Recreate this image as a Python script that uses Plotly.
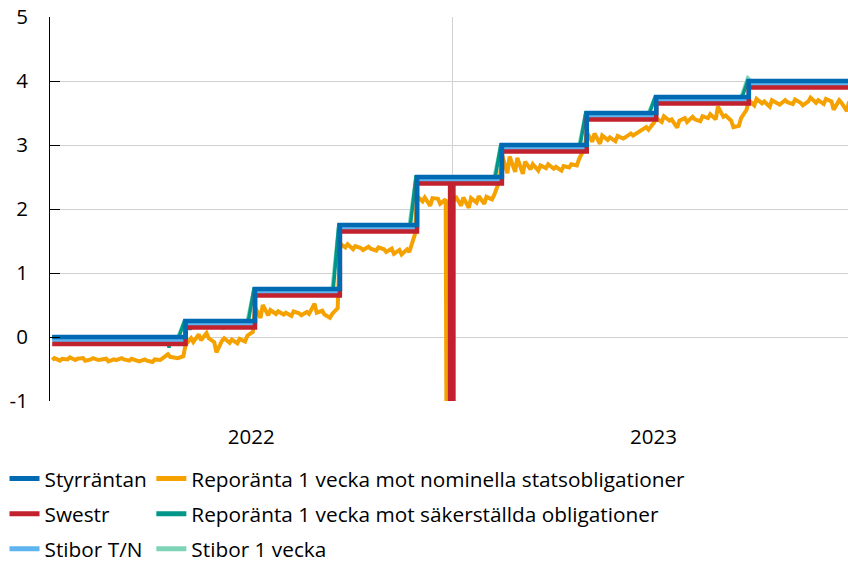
import pandas as pd
import plotly.graph_objects as go

# Styrräntan (policy rate) - change dates and levels
policy_dates = ['2022-01-03', '2022-05-04', '2022-07-06', '2022-09-21', '2022-11-30',
                '2023-02-15', '2023-05-03', '2023-07-05', '2023-09-27', '2023-12-29']
policy_rate = [0.0, 0.25, 0.75, 1.75, 2.5, 3.0, 3.5, 3.75, 4.0, 4.0]

# Swestr - level changes, incl. the year-end drop
swestr_dates = ['2022-01-03', '2022-05-04', '2022-07-06', '2022-09-21', '2022-11-30',
                '2022-12-30', '2023-01-02', '2023-02-15', '2023-05-03', '2023-07-05',
                '2023-09-27', '2023-12-29']
swestr = [-0.11, 0.15, 0.65, 1.65, 2.40, -8.0, 2.40, 2.90, 3.40, 3.65, 3.90, 3.90]

# Stibor T/N
stn_dates = policy_dates
stibor_tn = [-0.055, 0.195, 0.695, 1.695, 2.445, 2.945, 3.445, 3.695, 3.945, 3.945]

# Reporänta 1 vecka mot säkerställda obligationer
sak_dates = ['2022-01-03', '2022-03-27', '2022-03-28', '2022-03-29', '2022-04-18', '2022-04-19',
             '2022-04-20', '2022-04-28', '2022-05-03', '2022-05-07', '2022-05-08', '2022-05-09',
             '2022-06-06', '2022-06-07', '2022-06-08', '2022-06-30', '2022-07-05', '2022-09-15',
             '2022-09-20', '2022-11-24', '2022-11-29', '2023-02-09', '2023-02-14', '2023-04-27',
             '2023-05-02', '2023-06-29', '2023-07-04', '2023-09-21', '2023-09-26', '2023-11-29',
             '2023-11-30', '2023-12-01', '2023-12-29']
sak_rate = [0.0, 0.0, -0.13, 0.0, 0.0, -0.17, 0.0, 0.0, 0.25, 0.25, 0.11, 0.25,
            0.25, 0.12, 0.25, 0.25, 0.75, 0.75, 1.75, 1.75, 2.5, 2.5, 3.0, 3.0,
            3.5, 3.5, 3.75, 3.75, 4.0, 4.0, 3.94, 4.0, 4.0]

# Stibor 1 vecka
s1v_dates = ['2022-01-03', '2022-04-27', '2022-05-03', '2022-06-29', '2022-07-05', '2022-09-14',
             '2022-09-20', '2022-11-23', '2022-11-29', '2023-02-08', '2023-02-14', '2023-04-26',
             '2023-05-02', '2023-06-28', '2023-07-04', '2023-09-20', '2023-09-26', '2023-09-29',
             '2023-12-29']
stibor_1v = [0.0, 0.0, 0.25, 0.25, 0.75, 0.75, 1.75, 1.75, 2.5, 2.5, 3.0, 3.0,
             3.5, 3.5, 3.75, 3.75, 4.05, 4.0, 4.0]

# Reporänta 1 vecka mot nominella statsobligationer (Mon + Wed readings)
nom_a = [-0.36, -0.33, -0.37, -0.34, -0.35, -0.32, -0.36, -0.34, -0.33, -0.37,
         -0.35, -0.33, -0.36, -0.35, -0.34, -0.38, -0.35, -0.36, -0.33, -0.35,
         -0.37, -0.34, -0.36, -0.38, -0.35, -0.37, -0.39, -0.35, -0.36, -0.33,
         -0.27, -0.31, -0.32, -0.33, -0.30]
nom_b = [-0.12, -0.02, -0.08, 0.04, -0.05, 0.06, -0.02, -0.08, -0.24, -0.06,
         -0.02, -0.09, -0.04, -0.10, -0.03, -0.07, 0.02, 0.08]
nom_c = [0.46, 0.30, 0.50, 0.34, 0.42, 0.36, 0.40, 0.35, 0.38, 0.33,
         0.40, 0.37, 0.34, 0.39, 0.36, 0.52, 0.38, 0.41, 0.35, 0.30, 0.36, 0.45]
nom_d = [1.46, 1.40, 1.45, 1.37, 1.42, 1.39, 1.36, 1.41, 1.38, 1.35,
         1.40, 1.37, 1.33, 1.38, 1.30, 1.36, 1.29, 1.37, 1.33, 1.60]
nom_e = [2.20, 2.12, 2.18, 2.05, 2.17, 2.16, 2.08, 2.15, -8.0, 2.12,
         2.20, 2.05, 2.18, 2.02, 2.17, 2.10, 2.20, 2.08, 2.19, 2.15, 2.22, 2.45]
nom_f = [2.85, 2.56, 2.82, 2.58, 2.80, 2.55, 2.74, 2.62, 2.70, 2.60,
         2.68, 2.64, 2.70, 2.63, 2.66, 2.60, 2.67, 2.65, 2.70, 2.68, 2.78, 2.95]
nom_g = [3.20, 3.05, 3.18, 3.02, 3.15, 3.08, 3.12, 3.06, 3.14, 3.10,
         3.12, 3.18, 3.15, 3.20, 3.22, 3.28, 3.24, 3.35]
nom_h = [3.42, 3.36, 3.45, 3.38, 3.40, 3.27, 3.38, 3.42, 3.36, 3.44,
         3.40, 3.37, 3.45, 3.42, 3.48, 3.40, 3.60, 3.44, 3.46, 3.38,
         3.28, 3.30, 3.42, 3.55]
nom_i = [3.70, 3.62, 3.72, 3.65, 3.68, 3.60, 3.70, 3.66, 3.63, 3.70,
         3.67, 3.64, 3.71, 3.66, 3.62, 3.68, 3.74, 3.66, 3.70, 3.64,
         3.72, 3.68, 3.55, 3.70, 3.66, 3.53, 3.68]
nom_extra_dates = ['2022-12-29']
nom_extra = [2.10]

nom_dates = pd.date_range('2022-01-03', periods=104, freq='W-MON').union(
    pd.date_range('2022-01-05', periods=104, freq='W-WED'))
nom = pd.Series(nom_a + nom_b + nom_c + nom_d + nom_e + nom_f + nom_g + nom_h + nom_i,
                index=nom_dates)
nom = pd.concat([nom, pd.Series(nom_extra, index=pd.to_datetime(nom_extra_dates))]).sort_index()

y_ticks = [-1, 0, 1, 2, 3, 4, 5]
y_labels = ['-1', '0', '1', '2', '3', '4', '5']

FONT = "Open Sans"
FS = 20.5

COLORS = {
    'Styrräntan': '#006AB3',
    'Swestr': '#C2212E',
    'Stibor T/N': '#5DB4EE',
    'Reporänta 1 vecka mot nominella statsobligationer': '#F5A100',
    'Reporänta 1 vecka mot säkerställda obligationer': '#00968A',
    'Stibor 1 vecka': '#7DD3B6',
}

fig = go.Figure()

# data lines, drawn bottom to top
series = [
    ('Reporänta 1 vecka mot nominella statsobligationer', nom.index, nom.values, 4, 'linear'),
    ('Stibor 1 vecka', s1v_dates, stibor_1v, 3.5, 'linear'),
    ('Reporänta 1 vecka mot säkerställda obligationer', sak_dates, sak_rate, 3.5, 'linear'),
    ('Stibor T/N', stn_dates, stibor_tn, 3.5, 'hv'),
    ('Swestr', swestr_dates, swestr, 4.5, 'hv'),
    ('Styrräntan', policy_dates, policy_rate, 4.5, 'hv'),
]
for name, xs, ys, w, shape in series:
    fig.add_trace(go.Scatter(x=xs, y=ys, mode='lines', name=name, showlegend=False,
                             line=dict(color=COLORS[name], width=w, shape=shape)))

# legend entries (two columns)
legend_cols = {
    'legend': ['Styrräntan', 'Swestr', 'Stibor T/N'],
    'legend2': ['Reporänta 1 vecka mot nominella statsobligationer',
                'Reporänta 1 vecka mot säkerställda obligationer', 'Stibor 1 vecka'],
}
for leg, names in legend_cols.items():
    for i, name in enumerate(names):
        fig.add_trace(go.Scatter(x=[None], y=[None], mode='lines', name=name,
                                 line=dict(color=COLORS[name], width=5),
                                 legend=leg, legendrank=i + 1, legendgroup=name))

legend_style = dict(orientation='v', yanchor='top', xanchor='left', traceorder='grouped',
                    tracegroupgap=5, font=dict(family=FONT, size=20.8, color='#000000'),
                    bgcolor='rgba(0,0,0,0)', itemwidth=30)

fig.update_layout(
    width=848, height=563,
    margin=dict(l=50, r=0, t=17, b=162, autoexpand=False),
    plot_bgcolor='white', paper_bgcolor='white',
    font=dict(family=FONT, size=FS, color='#000000'),
    showlegend=True,
    legend=dict(x=-0.057, y=-0.15, **legend_style),
    legend2=dict(x=0.127, y=-0.15, **legend_style),
    xaxis=dict(range=['2022-01-01', '2023-12-26'], type='date',
               tick0='2022-01-01', dtick='M12', tickformat='%Y', ticklabelmode='period',
               showgrid=True, gridcolor='#D0D0D0', gridwidth=1,
               showline=False, ticks='', zeroline=False, ticklabelstandoff=21),
    yaxis=dict(range=[-1, 5], tickvals=y_ticks, ticktext=y_labels,
               showgrid=True, gridcolor='#D0D0D0', gridwidth=1,
               zeroline=False, showline=True, linecolor='#000000', linewidth=1,
               ticks='inside', ticklen=10, tickcolor='#000000', tickwidth=1,
               ticklabelstandoff=17),
)

fig.write_html("out.html", config={'displayModeBar': False},
               post_script="document.body.style.margin='0';")
